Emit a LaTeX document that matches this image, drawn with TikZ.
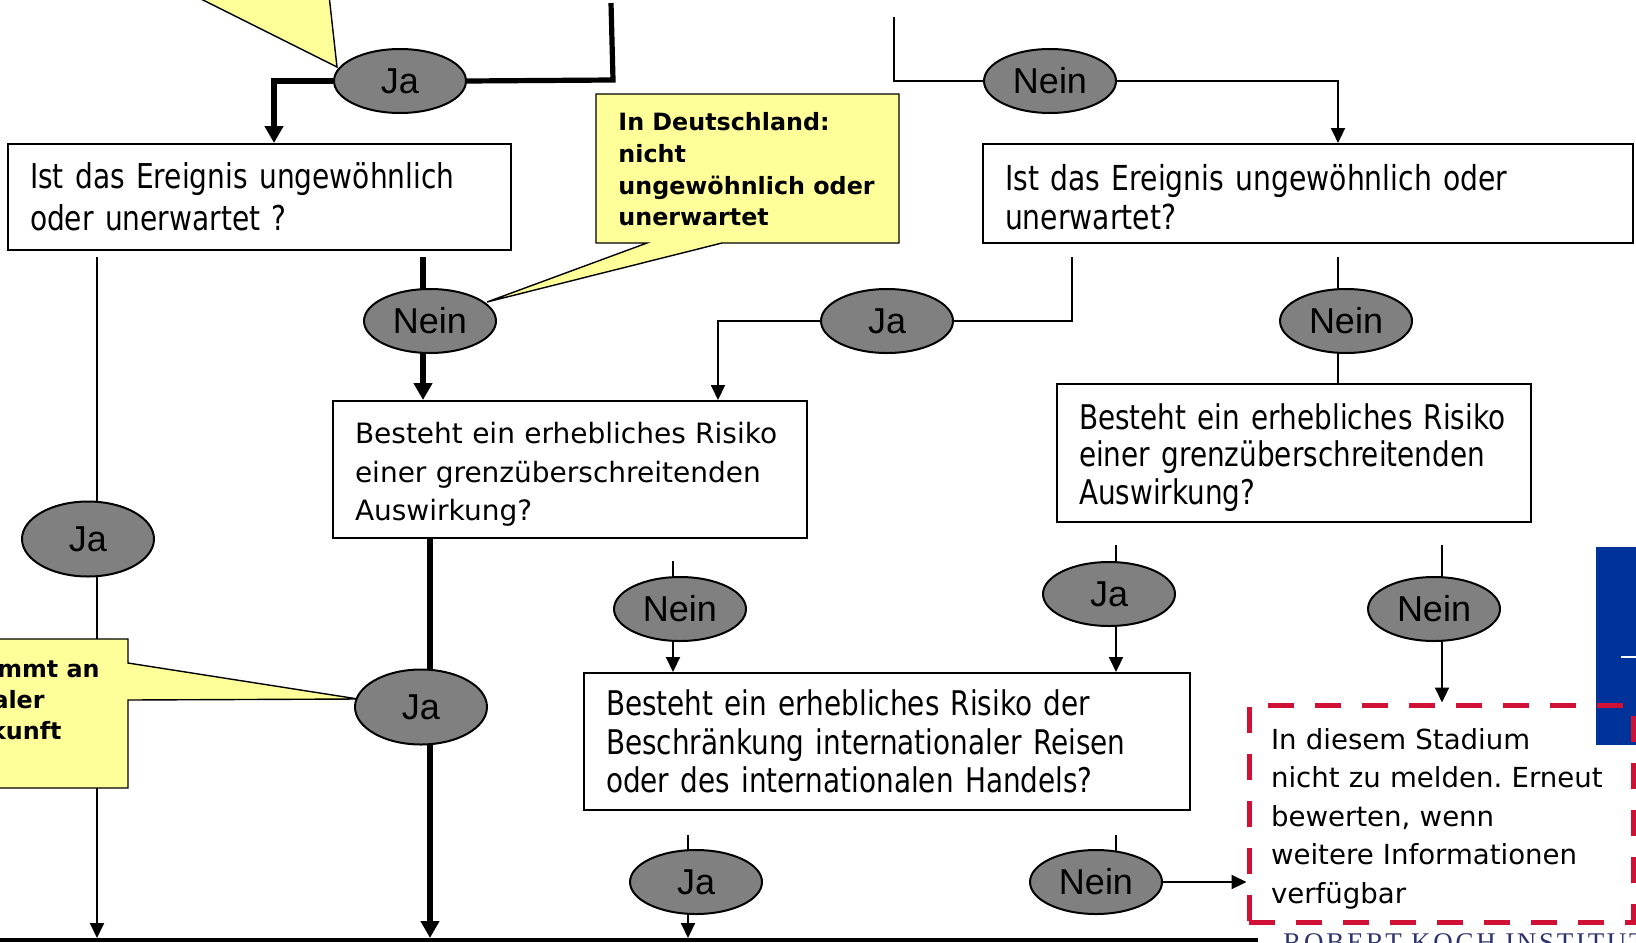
\documentclass[tikz,border=0pt]{standalone}
\usepackage{fontspec}
\usetikzlibrary{shapes.geometric,arrows.meta}
\newfontfamily\boxfont{DejaVu Sans}
\newfontfamily\condfont[FakeStretch=0.82]{DejaVu Sans}
\newfontfamily\ovalfont{Liberation Sans}
\newfontfamily\callfont{DejaVu Sans}
\newfontfamily\rkifont[LetterSpace=10]{Liberation Serif}
\newcommand{\mytopstrut}[1]{\rule{0pt}{#1}}
\definecolor{callyellow}{RGB}{255,255,153}
\definecolor{ovalgray}{RGB}{128,128,128}
\definecolor{dashred}{RGB}{208,16,52}
\definecolor{rkiblue}{RGB}{0,51,153}
\definecolor{rkitext}{RGB}{45,50,110}
\pgfdeclarelayer{bg}
\pgfsetlayers{bg,main}
\begin{document}
\frenchspacing
\begin{tikzpicture}[x=0.5pt,y=-0.5pt,
  oval/.style={ellipse,draw=black,line width=1pt,fill=ovalgray,inner sep=0pt,minimum width=66pt,minimum height=32pt,font=\ovalfont\fontsize{18}{20}\selectfont},
  ovalbig/.style={oval,minimum height=37.5pt},
  qbox/.style={rectangle,draw=black,line width=1pt,fill=white,inner xsep=11pt,inner ysep=0pt,align=left},
  thinln/.style={line width=1pt},
  thickln/.style={line width=2.6pt},
  thinarr/.style={thinln,-{Triangle[width=7pt,length=7.5pt]}},
  thickarr/.style={thickln,-{Triangle[width=9pt,length=8.5pt]}},
  callout/.style={fill=callyellow,draw=black,line width=0.7pt,line join=miter},
  calltext/.style={inner sep=0pt,font=\callfont\bfseries\fontsize{11.9}{16}\selectfont},
]
\useasboundingbox (0,0) rectangle (1636,942);
\clip (0,0) rectangle (1636,942);

% callouts
\path[callout] (193,-5) -- (337,67) -- (329,-5) -- cycle;
\path[callout] (596,94) -- (899,94) -- (899,243) -- (722,243) -- (487,302) -- (647,243) -- (596,243) -- cycle;
\path[callout] (-10,639) -- (128,639) -- (128,663) -- (358,699) -- (128,700) -- (128,788) -- (-10,788) -- cycle;

\node[calltext,anchor=base west] (c2a) at (618,130) {In Deutschland:};
\node[calltext,anchor=base west] (c2b) at (618,162) {nicht};
\node[calltext,anchor=base west] (c2c) at (618,194) {ungewöhnlich oder};
\node[calltext,anchor=base west] (c2d) at (618,225) {unerwartet};
\node[calltext,anchor=base east] (cLa) at (100,677) {mmt an};
\node[calltext,anchor=base east] (cLb) at (45,708) {aler};
\node[calltext,anchor=base east] (cLc) at (62,739) {kunft};

% blue panel
\fill[rkiblue] (1596,547) rectangle (1640,745);
\draw[white,line width=1pt] (1621,657) -- (1640,657);

% boxes
\node[qbox,text width=229.5pt,minimum height=53pt,font=\condfont\fontsize{17.1}{20.8}\selectfont] (b1) at (259.5,197)
  {Ist das Ereignis ungewöhnlich\\oder unerwartet ?};
\node[qbox,text width=303pt,minimum height=49.5pt,font=\condfont\fontsize{17.2}{19.5}\selectfont] (b3) at (1308,193.5)
  {\mytopstrut{16.3pt}Ist das Ereignis ungewöhnlich oder\\unerwartet?};
\node[qbox,text width=215pt,minimum height=68.5pt,font=\boxfont\fontsize{14}{19.3}\selectfont] (b2) at (570,469.5)
  {\mytopstrut{15.8pt}Besteht ein erhebliches Risiko\\einer grenzüberschreitenden\\Auswirkung?};
\node[qbox,text width=215pt,minimum height=69pt,font=\condfont\fontsize{17}{18.75}\selectfont] (b4) at (1294,453)
  {\mytopstrut{17.1pt}Besteht ein erhebliches Risiko\\einer grenzüberschreitenden\\Auswirkung?};
\node[qbox,text width=281pt,minimum height=68.5pt,font=\condfont\fontsize{17}{19.3}\selectfont] (b5) at (887,741.5)
  {Besteht ein erhebliches Risiko der\\Beschränkung internationaler Reisen\\oder des internationalen Handels?};
\node[qbox,draw=dashred,fill=none,line width=2.5pt,dash pattern=on 13pt off 10.5pt,text width=170pt,minimum height=108.5pt,font=\boxfont\fontsize{13.8}{19.2}\selectfont] (bd) at (1441,813.5)
  {\mbox{\mytopstrut{15.6pt}In diesem Stadium}\\\mbox{nicht zu melden. Erneut}\\\mbox{bewerten, wenn}\\\mbox{weitere Informationen}\\\mbox{verfügbar}};

% ovals
\node[oval] (jaT) at (400,81) {Ja};
\node[oval] (neinT) at (1050,81) {Nein};
\node[oval] (neinL) at (430,321) {Nein};
\node[oval] (jaM) at (887,321) {Ja};
\node[oval] (neinR) at (1346,321) {Nein};
\node[ovalbig] (jaL) at (88,539) {Ja};
\node[ovalbig] (jaC) at (421,707) {Ja};
\node[oval] (neinC) at (680,609) {Nein};
\node[oval] (jaR) at (1109,594) {Ja};
\node[oval] (neinRR) at (1434,609) {Nein};
\node[oval] (jaB) at (696,882) {Ja};
\node[oval] (neinB) at (1096,882) {Nein};

\node[anchor=base west,inner sep=0pt,text=rkitext,font=\rkifont\fontsize{13.5}{15}\selectfont] (rki) at (1283,951) {ROBERT KOCH INSTITUT};

% connectors
\coordinate (t1) at (274,81);
\coordinate (t2) at (613,80);
\coordinate (t3) at (611,3);
\coordinate (t4) at (894,17);
\coordinate (t5) at (894,81);
\coordinate (t6) at (1338,81);
\coordinate (n1) at (423,257);
\coordinate (l1) at (97,257);
\coordinate (m1) at (430,533);
\coordinate (r1) at (1072,257);
\coordinate (r2) at (718,321);
\coordinate (r3) at (1338,257);
\coordinate (s1) at (673,561);
\coordinate (s2) at (1116,545);
\coordinate (s3) at (1442,545);
\coordinate (u1) at (688,835);
\coordinate (u2) at (1116,835);
\coordinate (bot) at (0,938);
\coordinate (bl0) at (0,940);
\coordinate (bl1) at (1258,940);
\begin{pgfonlayer}{bg}
\draw[thickarr] (jaT.west) -- (t1) -- (t1 |- b1.north);
\draw[thickln] (jaT.east) -- (t2) -- (t3);
\draw[thinln] (t4) -- (t5) -- (neinT.west);
\draw[thinarr] (neinT.east) -- (t6) -- (t6 |- b3.north);
\draw[thickarr] (n1) -- (n1 |- b2.north);
\draw[thinarr] (l1) -- (l1 |- bot);
\draw[thickarr] (m1) -- (m1 |- bot);
\draw[thinln] (r1) -- (r1 |- jaM.east) -- (jaM.east);
\draw[thinarr] (jaM.west) -- (r2) -- (r2 |- b2.north);
\draw[thinln] (r3) -- (r3 |- b4.north);
\draw[thinarr] (s1) -- (s1 |- b5.north);
\draw[thinarr] (s2) -- (s2 |- b5.north);
\draw[thinarr] (s3) -- (s3 |- bd.north);
\draw[thinarr] (u1) -- (u1 |- bot);
\draw[thinln] (u2) -- (u2 |- neinB.center);
\draw[thinarr] (neinB.east) -- (bd.west |- neinB.east);
\draw[line width=2.2pt] (bl0) -- (bl1);
\end{pgfonlayer}
\end{tikzpicture}
\end{document}
